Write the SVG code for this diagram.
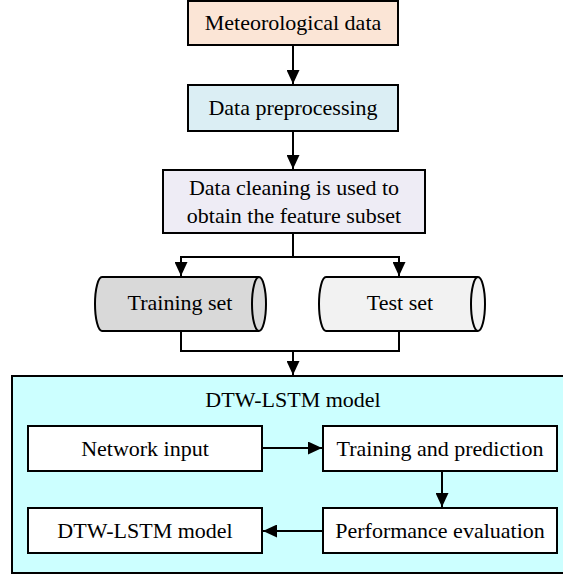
<svg xmlns="http://www.w3.org/2000/svg" width="563" height="577" viewBox="0 0 563 577">
<style>
  .box { stroke: #000; stroke-width: 2; }
  .t { font-family: "Liberation Serif", "Times New Roman", serif; font-size: 22px; fill: #000; text-anchor: middle; }
  .c { fill: none; stroke: #000; stroke-width: 2; }
</style>
<defs>
  <marker id="arr" viewBox="0 0 14 13" refX="14" refY="6.5" markerWidth="14" markerHeight="13" markerUnits="userSpaceOnUse" orient="auto">
    <path d="M0,0 L14,6.5 L0,13 Z" fill="#000"/>
  </marker>
</defs>
<rect width="563" height="577" fill="#fff"/>

<g id="model-container">
  <rect class="box" x="12" y="376" width="553" height="197" fill="#ccffff"/>
  <text class="t" x="293" y="407">DTW-LSTM model</text>
</g>

<g id="meteorological-data">
  <rect class="box" x="188" y="1" width="210" height="44" fill="#fbe5d6"/>
  <text class="t" x="293" y="30">Meteorological data</text>
</g>
<g id="data-preprocessing">
  <rect class="box" x="188" y="85" width="210" height="46" fill="#dbeef4"/>
  <text class="t" x="293" y="115">Data preprocessing</text>
</g>
<g id="data-cleaning">
  <rect class="box" x="163" y="170" width="262" height="63" fill="#eeecf5"/>
  <text class="t" x="294" y="195">Data cleaning is used to</text>
  <text class="t" x="294" y="223">obtain the feature subset</text>
</g>
<g id="training-set">
  <path class="box" d="M102,277 H259 A7,27 0 0 1 259,331 H102 A7,27 0 0 1 102,277 Z" fill="#d9d9d9"/>
  <path class="c" d="M259,277 A7,27 0 0 0 259,331"/>
  <text class="t" x="180" y="310">Training set</text>
</g>
<g id="test-set">
  <path class="box" d="M326,277 H478 A7,27 0 0 1 478,331 H326 A7,27 0 0 1 326,277 Z" fill="#f2f2f2"/>
  <path class="c" d="M478,277 A7,27 0 0 0 478,331"/>
  <text class="t" x="400" y="310">Test set</text>
</g>
<g id="network-input">
  <rect class="box" x="28" y="426" width="234" height="45" fill="#fff"/>
  <text class="t" x="145" y="456">Network input</text>
</g>
<g id="training-prediction">
  <rect class="box" x="323" y="426" width="234" height="45" fill="#fff"/>
  <text class="t" x="440" y="456">Training and prediction</text>
</g>
<g id="performance-evaluation">
  <rect class="box" x="323" y="508" width="234" height="45" fill="#fff"/>
  <text class="t" x="440" y="538">Performance evaluation</text>
</g>
<g id="dtw-lstm-model">
  <rect class="box" x="28" y="508" width="234" height="45" fill="#fff"/>
  <text class="t" x="145" y="538">DTW-LSTM model</text>
</g>

<g id="connectors">
  <path class="c" d="M293,45 V84" marker-end="url(#arr)"/>
  <path class="c" d="M293,131 V169" marker-end="url(#arr)"/>
  <path class="c" d="M293,233 V257 H181 V276" marker-end="url(#arr)"/>
  <path class="c" d="M293,257 H399 V276" marker-end="url(#arr)"/>
  <path class="c" d="M181,331 V351 H399 V331"/>
  <path class="c" d="M293,351 V375" marker-end="url(#arr)"/>
  <path class="c" d="M262,448 H322" marker-end="url(#arr)"/>
  <path class="c" d="M442,471 V507" marker-end="url(#arr)"/>
  <path class="c" d="M323,531 H263" marker-end="url(#arr)"/>
</g>
</svg>
